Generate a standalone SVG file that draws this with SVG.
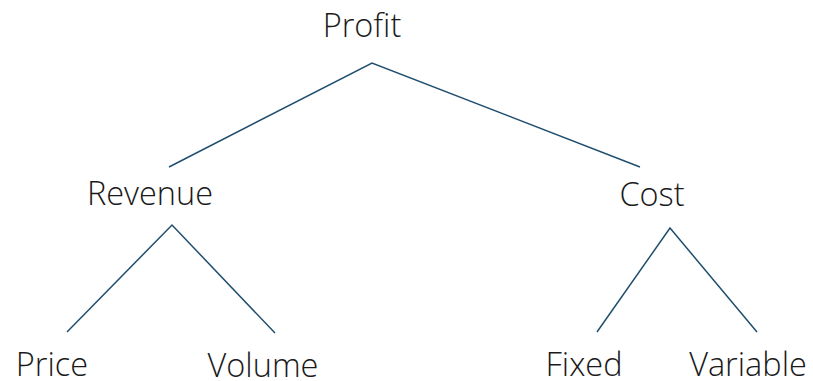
<svg xmlns="http://www.w3.org/2000/svg" width="813" height="381" viewBox="0 0 813 381">
<style>
.lbl{font-family:"Open Sans","Noto Sans","Liberation Sans",sans-serif;font-size:32.5px;fill:#1a1a1a;text-anchor:middle;font-weight:300}
.edge{stroke:#1f4e6e;stroke-width:1.5;fill:none}
</style>
<rect width="813" height="381" fill="#ffffff"/>
<g id="connectors">
<polyline class="edge" points="169,167 372,63 640,167"/>
<polyline class="edge" points="67,332 172,225 275,333"/>
<polyline class="edge" points="597,332 670,228 757,332"/>
</g>
<g id="profit"><text class="lbl" x="362" y="37">Profit</text></g>
<g id="revenue"><text class="lbl" x="150" y="205">Revenue</text></g>
<g id="cost"><text class="lbl" x="652" y="206">Cost</text></g>
<g id="price"><text class="lbl" x="52" y="376">Price</text></g>
<g id="volume"><text class="lbl" x="263" y="377">Volume</text></g>
<g id="fixed"><text class="lbl" x="584" y="376">Fixed</text></g>
<g id="variable"><text class="lbl" x="748" y="376">Variable</text></g>
</svg>
